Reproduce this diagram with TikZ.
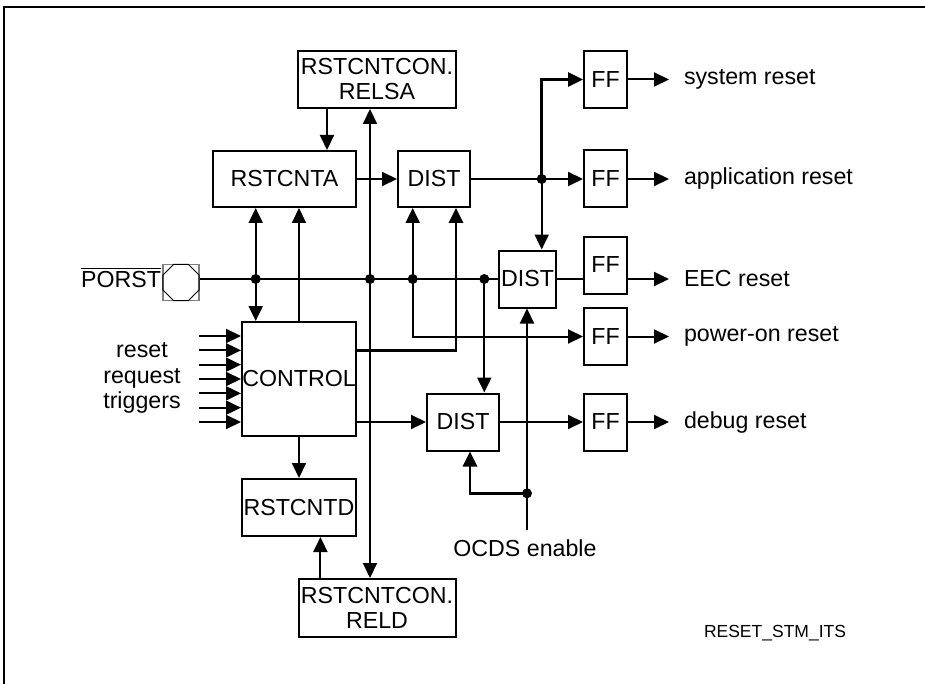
\documentclass[tikz,border=0pt]{standalone}
\usepackage{fontspec}
\setmainfont{Liberation Sans}
\usetikzlibrary{arrows.meta,shapes.geometric}
\begin{document}
\begin{tikzpicture}[x=0.5pt,y=-0.5pt,line width=1pt,>={Triangle[length=7.5pt,width=7pt]},
  blk/.style={draw,inner sep=0pt,align=center,font=\fontsize{11.6}{12.5}\selectfont},
  ffbox/.style={blk,minimum width=21.5pt,minimum height=28.5pt},
  lbl/.style={inner sep=0pt,font=\fontsize{11.6}{12.75}\selectfont},
  dot/.style={circle,fill,inner sep=0pt,minimum size=5pt},
  heavy/.style={line width=1.4pt}]
 \useasboundingbox (0,0) rectangle (925,684);
 \draw (4,684) -- (4,7) -- (925,7);
 \node[blk,minimum width=79pt,minimum height=28.5pt] (relsa) at (377,79.5) {RSTCNTCON.\\RELSA};
 \node[blk,minimum width=71.5pt,minimum height=28pt] (rstcnta) at (284.5,179) {RSTCNTA};
 \node[blk,minimum width=36pt,minimum height=28pt] (dista) at (434,179) {DIST};
 \node[blk,minimum width=57pt,minimum height=57pt] (control) at (299,379) {CONTROL};
 \node[blk,minimum width=57pt,minimum height=28.5pt] (rstcntd) at (299,507.5) {RSTCNTD};
 \node[blk,minimum width=78.5pt,minimum height=29pt] (reld) at (377,608) {RSTCNTCON.\\RELD};
 \node[blk,minimum width=28.5pt,minimum height=28.5pt] (distb) at (527.5,279) {DIST};
 \node[blk,minimum width=36pt,minimum height=28.5pt] (distc) at (463,422) {DIST};
 \node[ffbox] (ff1) at (605.5,79.5) {FF};
 \node[ffbox] (ff2) at (605.5,179) {FF};
 \node[ffbox] (ff3) at (605.5,265) {FF};
 \node[ffbox] (ff4) at (605.5,336.5) {FF};
 \node[ffbox] (ff5) at (605.5,422) {FF};
 \node[lbl,anchor=west] (sysrst) at (683,79.5) {system reset};
 \node[lbl,anchor=west] (apprst) at (683,179) {application reset};
 \node[lbl,anchor=west] (eecrst) at (683,279) {EEC reset};
 \node[lbl,anchor=west] (pwrrst) at (683,336.5) {power-on reset};
 \node[lbl,anchor=west] (dbgrst) at (683,422) {debug reset};
 \node[draw=gray,line width=0.6pt,minimum size=18pt,inner sep=0pt] (pad) at (181,282.5) {};
 \node[regular polygon,regular polygon sides=8,draw,line width=0.5pt,minimum size=19.5pt,inner sep=0pt] (padoct) at (pad) {};
 \node[lbl,anchor=base east] (porst) at (162,287) {$\overline{\mbox{PORST}}$};
 \node[lbl,align=center] (trig) at (142,378) {reset\\request\\triggers};
 \node[lbl] (ocds) at (525,548) {OCDS enable};
 \node[inner sep=0pt,anchor=west,font=\fontsize{8.75}{10}\selectfont] (figid) at (703,633) {RESET\_STM\_ITS};
 \coordinate (ocdsin) at (527,530);
 \node[dot] (j1) at (255.7,279) {};
 \node[dot] (j2) at (370,279) {};
 \node[dot] (j3) at (412.7,279) {};
 \node[dot] (j4) at (484.3,279) {};
 \node[dot] (j5) at (541.7,179) {};
 \node[dot] (j6) at (527,493.3) {};
 \draw (pad.east |- j1) -- (distb.west);
 \draw[<->] (rstcnta.south -| j1) -- (control.north -| j1);
 \draw[->] (control.north) -- (control.north |- rstcnta.south);
 \draw[<->] (relsa.south -| j2) -- (reld.north -| j2);
 \draw[->] ([xshift=-25pt]relsa.south) -- ([xshift=-25pt]relsa.south |- rstcnta.north);
 \draw[->] ([xshift=-28.3pt]reld.north) -- ([xshift=-28.3pt]reld.north |- rstcntd.south);
 \draw[->] (control) -- (rstcntd);
 \draw[->] (rstcnta) -- (dista);
 \draw[->] (j3.center) -- (j3.center |- dista.south);
 \draw[->] (j3.center) |- (ff4.west);
 \draw[->,heavy] ([yshift=14.15pt]control.east) -| ([xshift=11pt]dista.south);
 \draw[->] (j4.center) -- (j4.center |- distc.north);
 \draw[->] (control.east |- distc) -- (distc);
 \draw[->] (dista) -- (ff2);
 \draw[->,heavy] (j5.center) |- (ff1.west);
 \draw[->] (j5.center) -- (j5.center |- distb.north);
 \draw (distb) -- (ff3.west |- distb);
 \draw[->] (distc) -- (ff5);
 \draw[->] (ocdsin) -- (ocdsin |- distb.south);
 \draw[->,heavy] (j6.center) -| ([xshift=3.5pt]distc.south);
 \draw[->,shorten >=7pt] (ff1) -- (sysrst.west);
 \draw[->,shorten >=7pt] (ff2) -- (apprst.west);
 \draw[->,shorten >=7pt] (ff3.east |- eecrst) -- (eecrst.west);
 \draw[->,shorten >=7pt] (ff4) -- (pwrrst.west);
 \draw[->,shorten >=7pt] (ff5) -- (dbgrst.west);
 \foreach \y in {336,350.33,364.67,379,393.33,407.67,422}
  \draw[->] (199,\y) -- (control.west |- 0,\y);
\end{tikzpicture}
\end{document}
